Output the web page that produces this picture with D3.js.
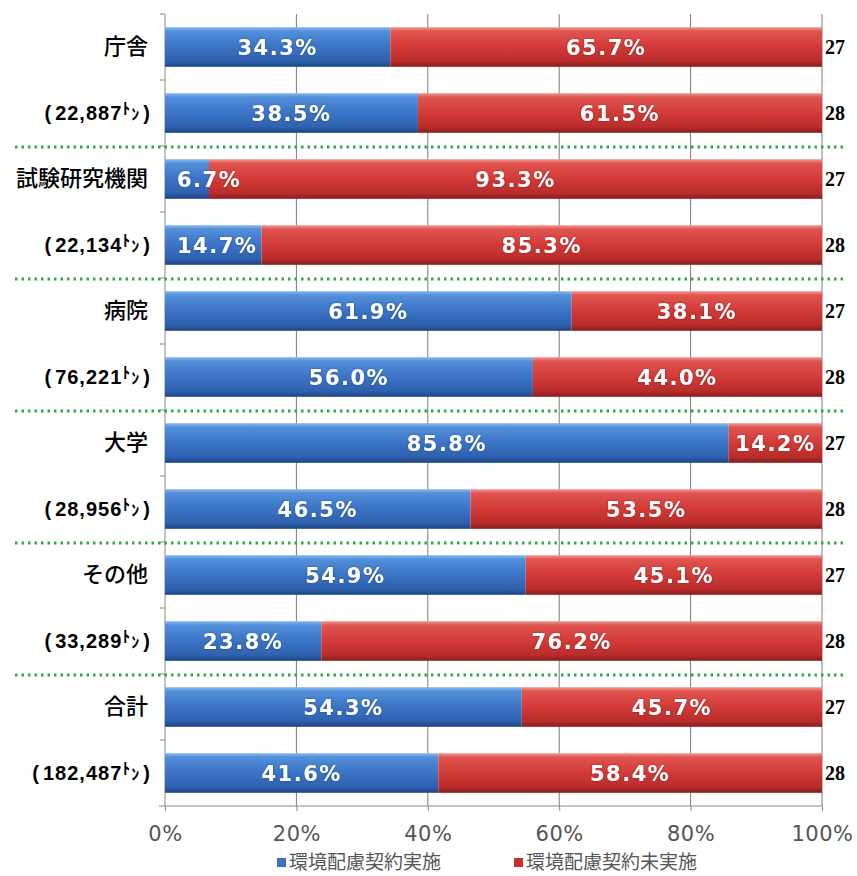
<!DOCTYPE html>
<html>
<head>
<meta charset="utf-8">
<script src="https://cdn.jsdelivr.net/npm/d3@7"></script>
<style>
  body { margin: 0; background: #fff; }
  svg { display: block; }
  .cat { font-family: "Liberation Sans", "Noto Sans CJK JP", sans-serif; font-weight: bold; font-size: 20px; letter-spacing: 1px; fill: #000; }
  .cat .jp { font-family: "Noto Sans CJK JP", sans-serif; font-weight: 500; font-size: 22px; letter-spacing: 0; }
  .val { font-family: "DejaVu Sans", Verdana, sans-serif; font-weight: bold; font-size: 21px; letter-spacing: 1.5px; fill: #fff; }
  .yr { font-family: "Liberation Serif", "DejaVu Serif", serif; font-weight: bold; font-size: 20px; fill: #000; }
  .tick text { font-family: "DejaVu Sans", sans-serif; font-size: 21px; letter-spacing: 0.5px; fill: #555; }
  .leg { font-family: "Noto Sans CJK JP", sans-serif; font-size: 19px; fill: #555; }
</style>
</head>
<body>
<svg width="857" height="876"></svg>
<script>
(function (d3) {
    'use strict';

    // facility groups, the tonnage under each, and the two fiscal years
    const groups = ['庁舎', '試験研究機関', '病院', '大学', 'その他', '合計'];
    const tonnage = ['22,887', '22,134', '76,221', '28,956', '33,289', '182,487'];
    const years = ['27', '28'];
    // share with environmental contract (%), one per bar, top to bottom
    const done = [34.3, 38.5, 6.7, 14.7, 61.9, 56.0, 85.8, 46.5, 54.9, 23.8, 54.3, 41.6];
    const notDone = [65.7, 61.5, 93.3, 85.3, 38.1, 44.0, 14.2, 53.5, 45.1, 76.2, 45.7, 58.4];
    const ticks = [0, 20, 40, 60, 80, 100];
    const legendNames = ['環境配慮契約実施', '環境配慮契約未実施'];

    const svg = d3.select('svg');
    const left = 165, right = 822, top = 14, bottom = 806;

    const rows = done.map((d, i) => ({ i: i, done: d, notDone: notDone[i], year: years[i % 2] }));

    const x = d3.scaleLinear().domain([0, 100]).range([left, right]);
    const y = d3.scaleBand().domain(d3.range(rows.length)).range([top, bottom]).paddingInner(0.4).paddingOuter(0.2);

    const defs = svg.append('defs');
    function grad(id, stops) {
      const g = defs.append('linearGradient').attr('id', id)
        .attr('x1', 0).attr('y1', 0).attr('x2', 0).attr('y2', 1);
      stops.forEach(s => g.append('stop').attr('offset', s[0]).attr('stop-color', s[1]));
    }
    grad('gBlue', [[0, '#8ab8f0'], [0.1, '#5290da'], [0.5, '#3b73c5'], [0.85, '#2f61ae'], [1, '#1c4483']]);
    grad('gRed', [[0, '#f49a94'], [0.1, '#e05450'], [0.5, '#d23a37'], [0.85, '#b92d2b'], [1, '#8a1c1b']]);

    const shadow = defs.append('filter').attr('id', 'glow').attr('x', -0.1).attr('y', -0.3).attr('width', 1.2).attr('height', 1.6);
    shadow.append('feDropShadow').attr('dx', 0).attr('dy', 0).attr('stdDeviation', 1.2)
      .attr('flood-color', '#000').attr('flood-opacity', 0.35);

    // gridlines
    svg.append('g').selectAll('line').data(ticks.slice(1)).join('line')
      .attr('x1', d => x(d)).attr('x2', d => x(d))
      .attr('y1', top).attr('y2', bottom)
      .attr('stroke', '#7a7a7a').attr('stroke-width', 1);

    // bottom axis
    const xAxis = svg.append('g')
      .attr('transform', `translate(0,${bottom})`)
      .call(d3.axisBottom(x).tickValues(ticks).tickFormat(d => d + '%').tickSize(5).tickPadding(15));
    xAxis.select('.domain').attr('stroke', '#888').attr('d', `M${left - 6},0H${right}`);
    xAxis.selectAll('.tick line').attr('stroke', '#888');

    // left axis line with ticks between bars
    svg.append('line').attr('x1', left).attr('x2', left).attr('y1', top).attr('y2', bottom)
      .attr('stroke', '#888');
    svg.append('g').selectAll('line').data(d3.range(rows.length)).join('line')
      .attr('x1', left - 5).attr('x2', left)
      .attr('y1', d => top + d * y.step()).attr('y2', d => top + d * y.step())
      .attr('stroke', '#888');

    // green dotted separators between groups
    svg.append('g').selectAll('line').data(d3.range(1, groups.length)).join('line')
      .attr('x1', 15).attr('x2', 845)
      .attr('y1', d => top + d * 2 * y.step() + 1).attr('y2', d => top + d * 2 * y.step() + 1)
      .attr('stroke', '#2ea84a').attr('stroke-width', 3).attr('stroke-dasharray', '2.5,4');

    const bars = svg.append('g').selectAll('g').data(rows).join('g');

    bars.append('rect')
      .attr('x', x(0)).attr('y', d => y(d.i))
      .attr('width', d => x(d.done) - x(0)).attr('height', y.bandwidth())
      .attr('fill', 'url(#gBlue)');
    bars.append('rect')
      .attr('x', d => x(d.done)).attr('y', d => y(d.i))
      .attr('width', d => x(100) - x(d.done)).attr('height', y.bandwidth())
      .attr('fill', 'url(#gRed)');

    // value labels, kept inside the plot when the segment is too narrow
    bars.append('text').attr('class', 'val')
      .attr('y', d => y(d.i) + y.bandwidth() / 2)
      .attr('text-anchor', 'middle').attr('dy', '0.36em')
      .attr('filter', 'url(#glow)')
      .text(d => d.done.toFixed(1) + '%')
      .attr('x', function (d) {
        const w = this.getComputedTextLength();
        return Math.max((x(0) + x(d.done)) / 2, left + 12 + w / 2);
      });
    bars.append('text').attr('class', 'val')
      .attr('x', d => (x(d.done) + x(100)) / 2).attr('y', d => y(d.i) + y.bandwidth() / 2)
      .attr('text-anchor', 'middle').attr('dy', '0.36em')
      .attr('filter', 'url(#glow)')
      .text(d => d.notDone.toFixed(1) + '%');

    bars.append('text').attr('class', 'yr')
      .attr('x', right + 3).attr('y', d => y(d.i) + y.bandwidth() / 2)
      .attr('dy', '0.34em')
      .text(d => d.year);

    // category labels: group name on the first bar, tonnage on the second
    const labels = svg.append('g').selectAll('text').data(rows).join('text')
      .attr('class', 'cat')
      .attr('x', d => d.i % 2 ? 151 : 148).attr('y', d => y(d.i) + y.bandwidth() / 2)
      .attr('text-anchor', 'end').attr('dy', '0.36em');
    labels.filter(d => d.i % 2 === 0).append('tspan').attr('class', 'jp').text(d => groups[d.i / 2]);
    labels.filter(d => d.i % 2 === 1).each(function (d) {
      const t = d3.select(this);
      t.append('tspan').text('(');
      t.append('tspan').attr('dx', 3).text(tonnage[(d.i - 1) / 2]);
      t.append('tspan').attr('font-size', 16).attr('letter-spacing', 1).attr('dy', '-0.4em').text('ﾄ');
      t.append('tspan').attr('font-size', 16).attr('letter-spacing', 1).attr('dy', '0.4em').text('ﾝ');
      t.append('tspan').attr('dx', 3).text(')');
    });

    // legend
    const colors = ['#3a72c4', '#c83030'];
    const leg = svg.append('g').attr('transform', 'translate(277,862)');
    let lx = 0;
    legendNames.forEach((n, k) => {
      leg.append('rect').attr('x', lx).attr('y', -4).attr('width', 9).attr('height', 9).attr('fill', colors[k]);
      leg.append('text').attr('class', 'leg').attr('x', lx + 12).attr('y', 0).attr('dy', '0.36em').text(n);
      lx += 237;
    });
}(d3));
</script>
</body>
</html>
